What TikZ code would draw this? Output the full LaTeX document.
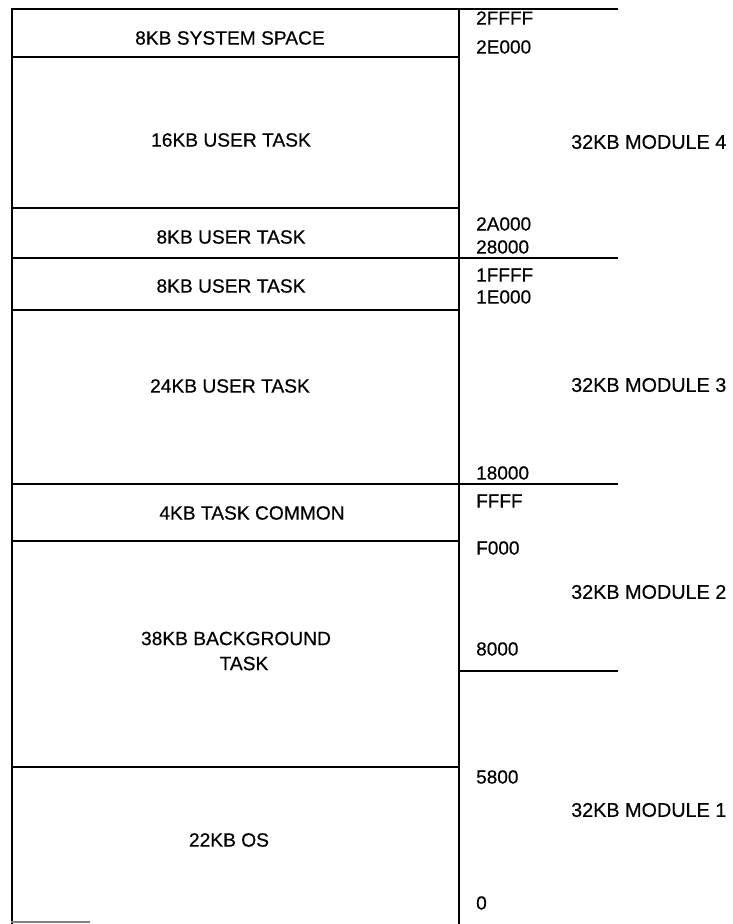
\documentclass[tikz,border=0pt]{standalone}
\usepackage{fontspec}
\setmainfont[FakeBold=0.4]{Liberation Sans}

\tikzset{
    mapline/.style={line width=1.8pt},
    boxlabel/.style={font=\fontsize{19.2}{25}\selectfont, inner sep=0pt},
    addrlabel/.style={font=\fontsize{19}{22}\selectfont, inner sep=0pt, anchor=west},
    modlabel/.style={font=\fontsize{19.8}{22}\selectfont, inner sep=0pt, anchor=west}
}

\begin{document}
\begin{tikzpicture}[x=1pt, y=-1pt]

    \useasboundingbox (0,0) rectangle (732,924);

    % Contour de la carte memoire
    \draw[mapline] (12,924) -- (12,9) -- (618,9);
    \draw[mapline] (459,9) -- (459,924);
    \draw[gray, line width=1.2pt] (11,922) -- (90,922);

    % Separations entre les zones
    \draw[mapline] (12,57) -- (459,57);
    \draw[mapline] (12,208) -- (459,208);
    \draw[mapline] (12,258) -- (618,258);
    \draw[mapline] (12,310) -- (459,310);
    \draw[mapline] (12,484) -- (618,484);
    \draw[mapline] (12,541) -- (459,541);
    \draw[mapline] (459,671) -- (618,671);
    \draw[mapline] (12,767) -- (459,767);

    % Contenu des zones
    \node[boxlabel] (sys) at (230,38) {8KB SYSTEM SPACE};
    \node[boxlabel] (user16) at (231,140) {16KB USER TASK};
    \node[boxlabel] (user8a) at (231,237) {8KB USER TASK};
    \node[boxlabel] (user8b) at (231,286) {8KB USER TASK};
    \node[boxlabel] (user24) at (230,386) {24KB USER TASK};
    \node[boxlabel] (common) at (252,513) {4KB TASK COMMON};
    \node[boxlabel, align=center] (bg) at (236,651) {38KB BACKGROUND\\\hspace*{16pt}TASK};
    \node[boxlabel] (os) at (229,840) {22KB OS};

    % Adresses
    \node[addrlabel] (a2ffff) at (476,18) {2FFFF};
    \node[addrlabel] (a2e000) at (476,47) {2E000};
    \node[addrlabel] (a2a000) at (476,224) {2A000};
    \node[addrlabel] (a28000) at (476,247) {28000};
    \node[addrlabel] (a1ffff) at (476,275) {1FFFF};
    \node[addrlabel] (a1e000) at (476,297) {1E000};
    \node[addrlabel] (a18000) at (476,473) {18000};
    \node[addrlabel] (affff) at (476,501) {FFFF};
    \node[addrlabel] (af000) at (476,548) {F000};
    \node[addrlabel] (a8000) at (476,649) {8000};
    \node[addrlabel] (a5800) at (476,777) {5800};
    \node[addrlabel] (a0) at (476,903) {0};

    % Modules
    \node[modlabel] (mod4) at (571,142) {32KB MODULE 4};
    \node[modlabel] (mod3) at (571,385) {32KB MODULE 3};
    \node[modlabel] (mod2) at (571,592) {32KB MODULE 2};
    \node[modlabel] (mod1) at (571,810) {32KB MODULE 1};

\end{tikzpicture}
\end{document}
